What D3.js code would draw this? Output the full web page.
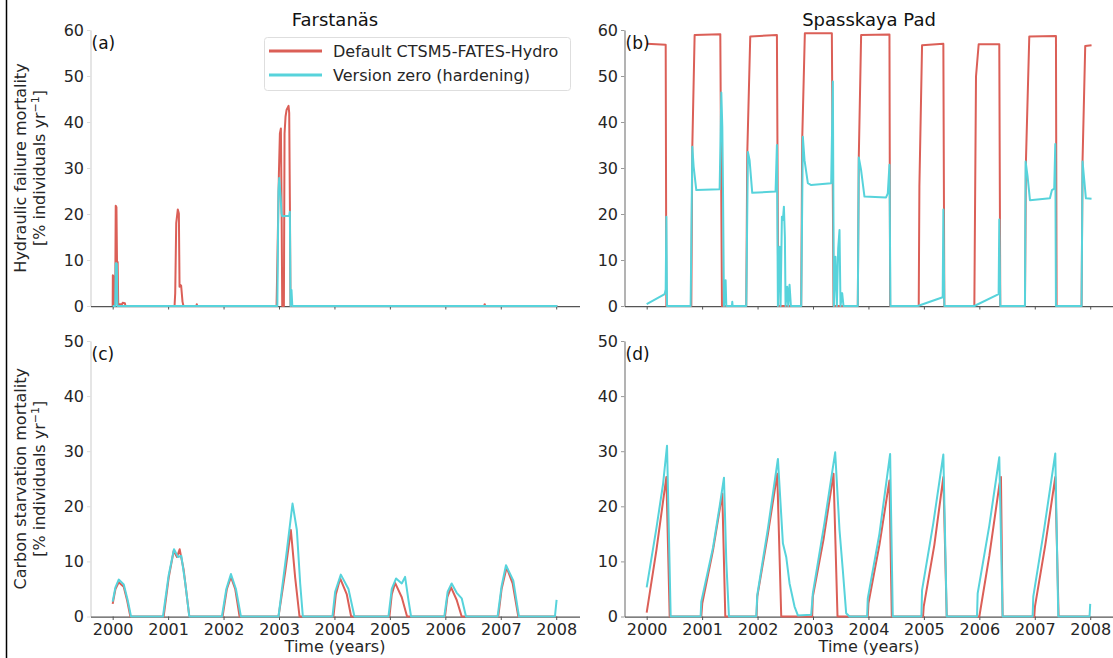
<!DOCTYPE html>
<html>
<head>
<meta charset="utf-8">
<script src="https://cdn.jsdelivr.net/npm/d3@7"></script>
<style>
  body { margin: 0; background: #fff; }
  svg { font-family: "DejaVu Sans", sans-serif; }
</style>
</head>
<body>
<svg id="chart" width="1113" height="658"></svg>
<script>
const siteNames = ["Farstanäs", "Spasskaya Pad"];
const seriesNames = ["Default CTSM5-FATES-Hydro", "Version zero (hardening)"];
const panelLetters = ["(a)", "(b)", "(c)", "(d)"];
const yearTicks = [2000, 2001, 2002, 2003, 2004, 2005, 2006, 2007, 2008];
const hydTicks = [0, 10, 20, 30, 40, 50, 60];
const carbTicks = [0, 10, 20, 30, 40, 50];

// [decimal year, % individuals per year]
const farHydDefault = [[2000.0,0],[2000.003,6.7],[2000.012,6.5],[2000.018,0.3],[2000.045,0.3],[2000.055,21.8],[2000.068,21.5],[2000.078,9.8],[2000.09,9.5],[2000.1,0.4],[2000.17,0.4],[2000.18,0.7],[2000.22,0.6],[2000.23,0],[2001.116,0],[2001.128,2.8],[2001.146,18],[2001.175,21],[2001.194,20.1],[2001.206,4.2],[2001.218,4.6],[2001.235,4.4],[2001.26,0.9],[2001.277,0],[2001.51,0],[2001.517,0.4],[2001.525,0],[2002.956,0],[2002.974,12],[2002.998,28.8],[2003.016,37.5],[2003.034,38.6],[2003.046,23],[2003.058,0],[2003.088,0],[2003.1,37.5],[2003.118,41.2],[2003.136,42.6],[2003.172,43.5],[2003.184,42],[2003.196,23],[2003.208,0],[2006.7,0],[2006.71,0.4],[2006.72,0],[2008.02,0]];
const farHydHard = [[2000.0,0],[2000.045,0],[2000.056,9.3],[2000.075,9.2],[2000.085,0],[2002.97,0],[2002.99,25],[2003.004,27.8],[2003.028,23.8],[2003.046,20.1],[2003.058,19.5],[2003.184,19.6],[2003.196,20.5],[2003.208,0],[2003.225,3.5],[2003.24,0],[2008.02,0]];

const spaHydDefault = [[2000.0,57.0],[2000.343,56.8],[2000.355,0],[2000.805,0],[2000.823,34.6],[2000.865,58.9],[2001.328,59.1],[2001.358,0],[2001.796,0],[2001.814,33],[2001.868,58.6],[2002.349,58.9],[2002.373,0],[2002.787,0],[2002.805,36],[2002.853,59.3],[2003.34,59.3],[2003.37,0],[2003.808,0],[2003.826,32.5],[2003.868,58.9],[2004.379,59.0],[2004.391,0],[2004.907,0],[2004.919,26],[2004.967,56.7],[2005.351,57],[2005.369,0],[2005.91,0],[2005.94,49.9],[2005.988,56.9],[2006.36,56.9],[2006.378,0],[2006.823,0],[2006.841,31.7],[2006.901,58.6],[2007.382,58.7],[2007.394,0],[2007.844,0],[2007.862,31.7],[2007.91,56.5],[2008.024,56.7]];
const spaHydHard = [[2000.0,0.4],[2000.325,2.6],[2000.343,3.6],[2000.355,19.4],[2000.367,0],[2000.793,0],[2000.823,34.6],[2000.847,30.3],[2000.895,25.2],[2001.316,25.4],[2001.346,46.4],[2001.364,39],[2001.376,26],[2001.394,0],[2001.424,5.6],[2001.436,0],[2001.538,0],[2001.544,0.9],[2001.55,0],[2001.796,0],[2001.826,33.5],[2001.856,31.7],[2001.904,24.6],[2002.325,24.9],[2002.349,35],[2002.367,0],[2002.397,12.9],[2002.415,0],[2002.439,19.4],[2002.457,18.7],[2002.475,21.6],[2002.493,15],[2002.505,0],[2002.535,4.2],[2002.553,0],[2002.577,4.6],[2002.601,0],[2002.787,0],[2002.817,36.8],[2002.847,31.7],[2002.907,26.7],[2002.967,26.3],[2003.328,26.7],[2003.358,48.8],[2003.376,0],[2003.406,10.7],[2003.43,0],[2003.454,12.5],[2003.478,16.5],[2003.496,0],[2003.526,2.8],[2003.55,0],[2003.808,0],[2003.826,32.3],[2003.868,29.5],[2003.928,23.8],[2004.318,23.6],[2004.349,24.5],[2004.379,30.7],[2004.397,0],[2004.889,0],[2005.339,1.9],[2005.351,21.0],[2005.369,0],[2005.91,0],[2006.348,2.6],[2006.36,18.8],[2006.378,0],[2006.823,0],[2006.835,31.4],[2006.871,28.1],[2006.913,23.0],[2007.273,23.4],[2007.31,25.2],[2007.351,25.5],[2007.37,35.2],[2007.382,0],[2007.844,0],[2007.862,31.4],[2007.892,27.4],[2007.922,23.4],[2008.024,23.3]];

const farCarbDefault = [[2000.0,2.3],[2000.05,5],[2000.109,6.2],[2000.199,5.4],[2000.259,3],[2000.319,0],[2000.919,0],[2001.01,7],[2001.1,11.9],[2001.16,10.8],[2001.208,12.2],[2001.28,8.5],[2001.382,0],[2001.982,0],[2002.06,5],[2002.133,7.2],[2002.21,5],[2002.289,0],[2002.991,0],[2003.111,8],[2003.214,15.7],[2003.292,7],[2003.37,0],[2003.982,0],[2004.025,4],[2004.103,6.9],[2004.223,4],[2004.301,0],[2004.992,0],[2005.034,4],[2005.094,6.1],[2005.214,3.5],[2005.31,0],[2005.994,0],[2006.036,3.5],[2006.103,5.3],[2006.205,3],[2006.295,0],[2006.955,0],[2007.015,5],[2007.105,8.9],[2007.214,6],[2007.316,0],[2008.0,0]];
const farCarbHard = [[2000.0,2.7],[2000.05,5.3],[2000.109,6.7],[2000.2,5.8],[2000.27,3],[2000.331,0],[2000.907,0],[2001.01,7.5],[2001.106,12.2],[2001.178,10.8],[2001.238,11],[2001.31,6],[2001.382,0],[2001.97,0],[2002.05,5],[2002.133,7.7],[2002.223,5],[2002.313,0],[2002.991,0],[2003.142,12],[2003.244,20.5],[2003.322,15.7],[2003.382,6],[2003.43,0],[2003.964,0],[2004.013,4.5],[2004.115,7.6],[2004.253,5],[2004.361,0],[2004.974,0],[2005.034,5],[2005.112,6.9],[2005.214,6.0],[2005.274,7.2],[2005.334,3],[2005.382,0],[2005.982,0],[2006.042,4.5],[2006.114,6.0],[2006.205,4.3],[2006.295,3.3],[2006.373,0],[2006.943,0],[2007.015,5.5],[2007.094,9.3],[2007.226,6.5],[2007.328,0],[2007.977,0],[2008.007,3.0]];

const spaCarbDefault = [[2000.0,0.7],[2000.175,12],[2000.355,25.3],[2000.415,0],[2000.985,0],[2001.003,2.4],[2001.196,12],[2001.364,22.3],[2001.418,0],[2001.982,0],[2001.995,3.6],[2002.187,15],[2002.355,25.9],[2002.427,0],[2002.985,0],[2002.997,3.6],[2003.19,14],[2003.37,25.9],[2003.442,0],[2003.988,0],[2004.0,2.4],[2004.198,13],[2004.379,24.7],[2004.421,0],[2004.985,0],[2004.997,1.8],[2005.189,13],[2005.351,25.3],[2005.412,0],[2006.0,0],[2006.18,11],[2006.36,23.8],[2006.39,25.3],[2006.42,0],[2006.991,0],[2007.003,1.8],[2007.19,13],[2007.37,25.3],[2007.43,0],[2008.0,0]];
const spaCarbHard = [[2000.0,5.3],[2000.175,16],[2000.295,24],[2000.367,31.0],[2000.433,0],[2000.973,0],[2000.985,2.7],[2001.196,12.5],[2001.316,20],[2001.394,25.2],[2001.436,10],[2001.484,0],[2001.976,0],[2001.995,3.9],[2002.187,16],[2002.367,28.6],[2002.457,13.3],[2002.517,10.8],[2002.577,6],[2002.667,1.8],[2002.727,0.2],[2002.967,0.3],[2002.997,4.2],[2003.207,17],[2003.4,29.8],[2003.478,15.7],[2003.538,8.4],[2003.598,0.6],[2003.658,0],[2003.976,0],[2003.988,3.3],[2004.198,15],[2004.391,29.5],[2004.439,0],[2004.955,0],[2004.967,4.8],[2005.171,17],[2005.351,29.4],[2005.412,0],[2005.958,0],[2005.97,4.2],[2006.18,16.5],[2006.36,28.9],[2006.42,0],[2006.961,0],[2006.973,3.6],[2007.171,16],[2007.37,29.6],[2007.424,0],[2007.988,0],[2008.0,2.3]];

const colors = ["#db5f57", "#57d3db"];

const svg = d3.select("#chart");

// figure border on the left edge
svg.append("line")
  .attr("x1", 6.5).attr("x2", 6.5)
  .attr("y1", 0).attr("y2", 658)
  .attr("stroke", "#000")
  .attr("stroke-width", 1.5);

const panels = [
  {series: [farHydDefault, farHydHard], left: 90.5, top: 30, bottom: 306, yMax: 60, ticks: hydTicks, col: 0, row: 0},
  {series: [spaHydDefault, spaHydHard], left: 624.5, top: 30, bottom: 306, yMax: 60, ticks: hydTicks, col: 1, row: 0},
  {series: [farCarbDefault, farCarbHard], left: 90.5, top: 341, bottom: 616.5, yMax: 50, ticks: carbTicks, col: 0, row: 1},
  {series: [spaCarbDefault, spaCarbHard], left: 624.5, top: 341, bottom: 616.5, yMax: 50, ticks: carbTicks, col: 1, row: 1}
];
const panelWidth = 489;

panels.forEach(function(p, i) {
  const x = d3.scaleLinear().domain([1999.6, 2008.42]).range([p.left, p.left + panelWidth]);
  const y = d3.scaleLinear().domain([0, p.yMax]).range([p.bottom, p.top]);

  const g = svg.append("g");

  // left axis: faint on the left column, grey on the right column
  const spineColor = p.col === 0 ? "#dcdcdc" : "#9a9a9a";
  const yAxis = g.append("g")
    .attr("transform", "translate(" + p.left + ",0)")
    .call(d3.axisLeft(y).tickValues(p.ticks).tickSize(3.5).tickSizeOuter(0).tickPadding(3));
  yAxis.select(".domain").attr("stroke", spineColor).attr("stroke-width", 1.5);
  yAxis.selectAll(".tick line").attr("stroke", spineColor);
  yAxis.selectAll("text")
    .attr("font-size", 16)
    .attr("font-family", "DejaVu Sans")
    .attr("fill", "#262626");

  const xAxis = g.append("g")
    .attr("transform", "translate(0," + p.bottom + ")")
    .call(d3.axisBottom(x).tickValues(yearTicks).tickSize(3.5).tickSizeOuter(0).tickPadding(3.5)
      .tickFormat(p.row === 1 ? d3.format("d") : ""));
  xAxis.select(".domain").attr("stroke", "#555").attr("stroke-width", 1.25);
  xAxis.selectAll(".tick line").attr("stroke", "#555");
  xAxis.selectAll("text")
    .attr("font-size", 16)
    .attr("font-family", "DejaVu Sans")
    .attr("fill", "#262626");

  const line = d3.line()
    .x(d => x(d[0]))
    .y(d => y(d[1]));

  p.series.forEach(function(s, k) {
    g.append("path")
      .datum(s)
      .attr("d", line)
      .attr("fill", "none")
      .attr("stroke", colors[k])
      .attr("stroke-width", 2)
      .attr("stroke-linejoin", "round");
  });

  g.append("text")
    .attr("x", p.left + 1)
    .attr("y", p.top + 19)
    .attr("font-size", 17)
    .attr("fill", "#111")
    .text(panelLetters[i]);

  const mid = p.left + panelWidth / 2;
  if (p.row === 0) {
    g.append("text")
      .attr("x", mid)
      .attr("y", 26)
      .attr("text-anchor", "middle")
      .attr("font-size", 18)
      .attr("fill", "#111")
      .text(siteNames[p.col]);
  } else {
    g.append("text")
      .attr("x", mid)
      .attr("y", 652)
      .attr("text-anchor", "middle")
      .attr("font-size", 16)
      .attr("fill", "#262626")
      .text("Time (years)");
  }

  if (p.col === 0) {
    const cy = (p.top + p.bottom) / 2;
    const lab = g.append("text")
      .attr("transform", "translate(26," + cy + ") rotate(-90)")
      .attr("text-anchor", "middle")
      .attr("font-size", 16)
      .attr("fill", "#262626");
    lab.append("tspan")
      .attr("x", 0).attr("dy", 0)
      .text(p.row === 0 ? "Hydraulic failure mortality" : "Carbon starvation mortality");
    const l2 = lab.append("tspan")
      .attr("x", 0).attr("dy", 18.5);
    l2.append("tspan").text("[% individuals yr");
    l2.append("tspan").attr("dy", -6).attr("font-size", 11).text("−1");
    l2.append("tspan").attr("dy", 6).text("]");
  }
});

// legend in panel (a)
const legend = svg.append("g");
legend.append("rect")
  .attr("x", 264.5).attr("y", 37.5)
  .attr("width", 306).attr("height", 53)
  .attr("rx", 3)
  .attr("fill", "#fff")
  .attr("fill-opacity", 0.8)
  .attr("stroke", "#dedede");

seriesNames.forEach(function(name, k) {
  const ly = 51 + k * 24;
  legend.append("line")
    .attr("x1", 269).attr("x2", 322)
    .attr("y1", ly).attr("y2", ly)
    .attr("stroke", colors[k])
    .attr("stroke-width", 3);
  legend.append("text")
    .attr("x", 333)
    .attr("y", ly + 6)
    .attr("font-size", 16)
    .attr("fill", "#262626")
    .text(name);
});
</script>
</body>
</html>
